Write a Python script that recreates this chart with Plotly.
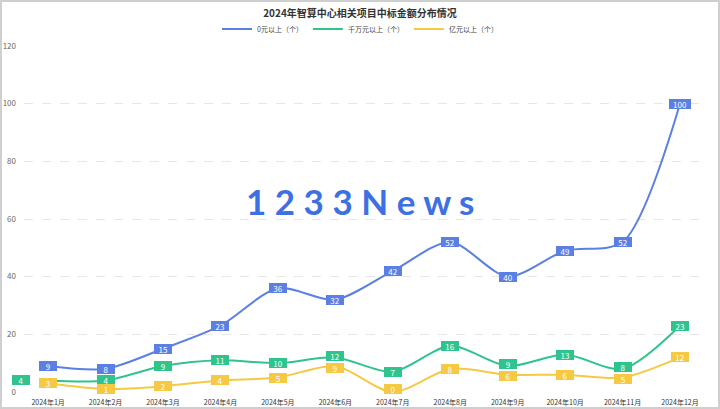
import plotly.graph_objects as go

months = ["2024年1月", "2024年2月", "2024年3月", "2024年4月", "2024年5月", "2024年6月",
          "2024年7月", "2024年8月", "2024年9月", "2024年10月", "2024年11月", "2024年12月"]
series_names = ["0元以上（个）", "千万元以上（个）", "亿元以上（个）"]
above_zero = [9, 8, 15, 23, 36, 32, 42, 52, 40, 49, 52, 100]
above_10m = [4, 4, 9, 11, 10, 12, 7, 16, 9, 13, 8, 23]
above_100m = [3, 1, 2, 4, 5, 9, 0, 8, 6, 6, 5, 12]
colors = ["#5b7fe3", "#2fc48d", "#f6c944"]
y_ticks = [0, 20, 40, 60, 80, 100, 120]

FONT = "Noto Sans CJK SC, Noto Sans, sans-serif"
H_PLOT = 346
PX_PER_UNIT = H_PLOT / 120
BOX_H = 10      # drawn label box height in px
NEED = BOX_H + 2

fig = go.Figure()
all_series = [above_zero, above_10m, above_100m]
for name, vals, c in zip(series_names, all_series, colors):
    fig.add_trace(go.Scatter(
        x=list(range(len(months))), y=vals, name=name, mode="lines",
        line=dict(color=c, width=2, shape="spline", smoothing=0.8),
        hoverinfo="skip"))

# per-point label offsets to keep labels of close series apart
shifts = {}
for i in range(len(months)):
    gap_gy = abs(above_10m[i] - above_100m[i]) * PX_PER_UNIT
    gap_bg = abs(above_zero[i] - above_10m[i]) * PX_PER_UNIT
    g_x, g_y, y_y = 0, 0.0, 0.0
    if gap_gy < 6:
        g_x = -27
    elif gap_gy < NEED:
        total = NEED - gap_gy
        room_up = max(0.0, gap_bg - NEED)
        g_y = min(total / 2, room_up)
        y_y = -(total - g_y)
    if above_100m[i] * PX_PER_UNIT < 4:
        y_y += 3
    shifts[(1, i)] = (g_x, g_y)
    shifts[(2, i)] = (0, y_y)

annotations = []
for s, (vals, c) in enumerate(zip(all_series, colors)):
    for i, v in enumerate(vals):
        xshift, yshift = shifts.get((s, i), (0, 0))
        annotations.append(dict(
            x=i, y=v, xref="x", yref="y", text=str(v), showarrow=False,
            font=dict(color="white", size=8, family=FONT),
            bgcolor=c, bordercolor=c, borderpad=0, borderwidth=1,
            width=16 if v < 100 else 20, height=BOX_H - 2,
            xshift=xshift, yshift=yshift))

annotations.append(dict(
    x=(360 - 24) / 681, y=0.5, xref="paper", yref="paper", text="<b>1 2 3 3 N e w s</b>",
    showarrow=False, font=dict(color="#3d70e3", size=35, family="Lato, sans-serif"),
    yshift=18))

fig.update_layout(
    width=720, height=409,
    paper_bgcolor="white", plot_bgcolor="white",
    margin=dict(l=24, r=15, t=46, b=17, autoexpand=False),
    font=dict(family=FONT, size=8, color="#555"),
    title=dict(text="<b>2024年智算中心相关项目中标金额分布情况</b>", x=0.5, xanchor="center",
               xref="container", yref="container",
               y=1 - 13 / 409, yanchor="middle", font=dict(size=10, color="#333", family=FONT)),
    legend=dict(orientation="h", x=0.5, xanchor="center", xref="container", yref="container",
                y=1 - 29 / 409, yanchor="middle", itemwidth=30, tracegroupgap=0,
                font=dict(size=7, color="#444", family=FONT),
                bgcolor="rgba(0,0,0,0)"),
    showlegend=True,
    xaxis=dict(tickmode="array", tickvals=list(range(len(months))), ticktext=months,
               range=[-0.42, 11.435], showgrid=False, zeroline=False, showline=False,
               ticks="", tickfont=dict(size=7, color="#333", family=FONT), automargin=False,
               ticklabelstandoff=5),
    yaxis=dict(range=[0, 120], tickvals=y_ticks, showgrid=True, gridcolor="#e6e6e6",
               griddash="dash", gridwidth=1, zeroline=False, showline=False, ticks="",
               tickfont=dict(size=8, color="#666", family=FONT), ticklabelstandoff=7,
               automargin=False),
    annotations=annotations,
    shapes=[dict(type="rect", xref="paper", yref="paper", x0=-23/681, x1=1+14/681,
                 y0=-16/346, y1=1+45/346, line=dict(color="#cfcfcf", width=2))],
)
fig.update_traces(cliponaxis=False)
fig.write_html("out.html", config={"displayModeBar": False},
               post_script="document.body.style.margin='0';document.body.style.overflow='hidden';")
